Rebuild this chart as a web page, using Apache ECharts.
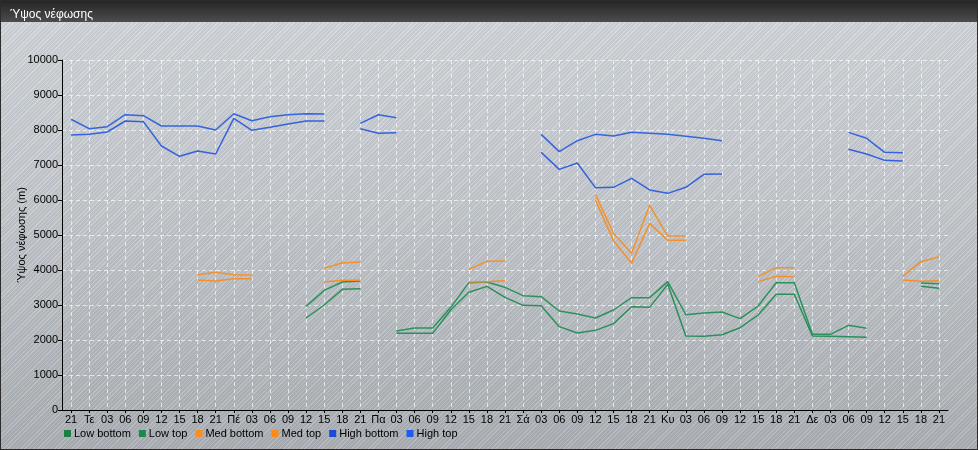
<!DOCTYPE html>
<html>
<head>
<meta charset="utf-8">
<script src="https://cdn.jsdelivr.net/npm/echarts@6/dist/echarts.min.js"></script>
<style>
html,body{margin:0;padding:0;}
#wrap{position:relative;width:978px;height:450px;box-sizing:border-box;border:1px solid #2b2b2b;
background:
 linear-gradient(to bottom,#262626 0px,#4c4c4c 21px,rgba(0,0,0,0) 21px),
 repeating-linear-gradient(135deg,rgba(255,255,255,0.16) 0px,rgba(255,255,255,0.16) 1px,rgba(120,130,150,0.10) 1px,rgba(120,130,150,0.10) 3px),
 linear-gradient(to bottom,#d2d6da 0px,#c3c7cb 200px,#a9adb1 450px);}
#chart{position:absolute;left:0;top:0;width:976px;height:448px;}
</style>
</head>
<body>
<div id="wrap"><div id="chart"></div></div>
<script>
const categories = ['21','Τε','03','06','09','12','15','18','21','Πέ','03','06','09','12','15','18','21','Πα','03','06','09','12','15','18','21','Σά','03','06','09','12','15','18','21','Κυ','03','06','09','12','15','18','21','Δε','03','06','09','12','15','18','21'];
const _ = null;
const lowBottom = [_,_,_,_,_,_,_,_,_,_,_,_,_,2629,3000,3448,3467,_,2190,2190,2190,2857,3362,3533,3219,2990,2981,2381,2200,2276,2467,2952,2933,3590,2114,2105,2152,2352,2714,3305,3305,2114,2105,2095,2076,_,_,3533,3476];
const lowTop = [_,_,_,_,_,_,_,_,_,_,_,_,_,2962,3419,3657,3686,_,2257,2343,2343,2933,3638,3657,3505,3267,3238,2829,2743,2629,2857,3210,3210,3667,2724,2771,2800,2610,2971,3638,3638,2162,2162,2419,2333,_,_,3629,3610];
const medBottom = [_,_,_,_,_,_,_,3714,3686,3752,3752,_,_,_,3657,3705,3705,_,_,_,_,_,3657,3667,3695,_,_,_,_,6000,4838,4190,5333,4848,4848,_,_,_,3667,3819,3810,_,_,_,_,_,3714,3676,3695];
const medTop = [_,_,_,_,_,_,_,3867,3933,3867,3857,_,_,_,4048,4200,4229,_,_,_,_,_,4019,4248,4257,_,_,_,_,6162,5048,4476,5848,4971,4971,_,_,_,3810,4067,4067,_,_,_,_,_,3819,4238,4381];
const highBottom = [7857,7876,7943,8257,8238,7543,7248,7400,7314,8333,7990,8076,8171,8257,8257,_,8038,7905,7924,_,_,_,_,_,_,_,7362,6876,7057,6352,6362,6619,6286,6190,6362,6733,6743,_,_,_,_,_,_,7448,7314,7133,7114,_,_];
const highTop = [8306,8037,8094,8437,8409,8114,8114,8114,8000,8466,8266,8380,8437,8466,8457,_,8190,8437,8352,_,_,_,_,_,_,_,7876,7381,7695,7876,7829,7933,7905,7876,7820,7762,7695,_,_,_,_,_,_,7933,7762,7362,7352,_,_];
const yTicks = {min:0, max:10000, interval:1000};

const FONT = "'Liberation Sans', Arial, sans-serif";
const seriesDefs = [
  {name:'Low bottom', data:lowBottom, icon:'#1a8042', line:'#2b8f5a'},
  {name:'Low top', data:lowTop, icon:'#1c8a4e', line:'#2b925c'},
  {name:'Med bottom', data:medBottom, icon:'#ff8c1c', line:'#f2902c'},
  {name:'Med top', data:medTop, icon:'#ff8a18', line:'#f2922e'},
  {name:'High bottom', data:highBottom, icon:'#1a4ad8', line:'#3362dc'},
  {name:'High top', data:highTop, icon:'#1d5cf0', line:'#3464de'}
];

const chart = echarts.init(document.getElementById('chart'), null, {renderer:'canvas'});
chart.setOption({
  backgroundColor:'transparent',
  animation:false,
  title:{text:'Ύψος νέφωσης', left:4, top:3, textStyle:{color:'#ffffff', fontSize:12, fontWeight:'normal', fontFamily:FONT}},
  legend:{
    left:58, top:422, icon:'rect', itemWidth:7, itemHeight:7, itemGap:8,
    textStyle:{color:'#000', fontSize:11, fontFamily:FONT, padding:[0,0,0,-2]},
    data:seriesDefs.map(s=>s.name)
  },
  grid:{left:61, right:29, top:59, bottom:39, containLabel:false},
  xAxis:{
    type:'category', data:categories, boundaryGap:true,
    axisLine:{lineStyle:{color:'#000', width:1}},
    axisTick:{show:true, alignWithLabel:true, length:3, lineStyle:{color:'#000'}},
    axisLabel:{interval:0, color:'#000', fontSize:11, fontFamily:FONT, margin:4},
    splitLine:{show:true, alignWithLabel:true, lineStyle:{color:'rgba(255,255,255,0.65)', type:[4,3], width:1}}
  },
  yAxis:{
    type:'value', min:yTicks.min, max:yTicks.max, interval:yTicks.interval,
    name:'Ύψος νέφωσης (m)', nameLocation:'middle', nameGap:35, nameRotate:90,
    nameMoveOverlap:false,
    nameTextStyle:{color:'#000', fontSize:11, fontFamily:FONT},
    axisLine:{show:true, lineStyle:{color:'#000', width:1}},
    axisTick:{show:true, length:4, lineStyle:{color:'#000'}},
    axisLabel:{color:'#000', fontSize:11, fontFamily:FONT, margin:4, formatter:v=>String(v)},
    splitLine:{show:true, lineStyle:{color:'rgba(255,255,255,0.65)', type:[4,3], width:1}}
  },
  series:seriesDefs.map(s=>({
    name:s.name, type:'line', data:s.data, showSymbol:false, symbol:'none',
    connectNulls:false,
    itemStyle:{color:s.icon},
    lineStyle:{color:s.line, width:1.5},
    emphasis:{disabled:true}
  }))
});
</script>
</body>
</html>
